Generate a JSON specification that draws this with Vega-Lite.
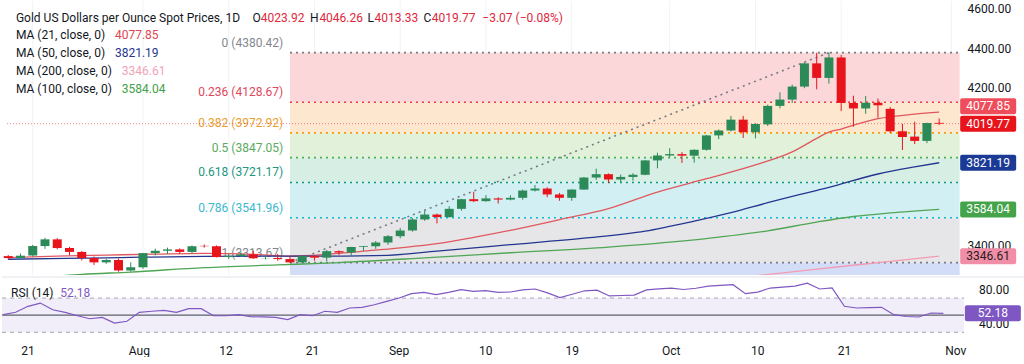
{
  "$schema": "https://vega.github.io/schema/vega-lite/v6.json",
  "padding": 0,
  "background": "white",
  "spacing": 0,
  "resolve": {"scale": {"x": "independent", "y": "independent", "color": "independent"}},
  "config": {"view": {"stroke": null}, "text": {"font": "Roboto", "fontSize": 12}},
  "datasets": {
    "candles": [
      {"i": -2, "o": 3347, "h": 3352, "l": 3330, "c": 3337},
      {"i": -1, "o": 3337, "h": 3360, "l": 3334, "c": 3349},
      {"i": 0, "o": 3350, "h": 3404, "l": 3344, "c": 3398},
      {"i": 1, "o": 3398, "h": 3440, "l": 3384, "c": 3432},
      {"i": 2, "o": 3432, "h": 3438, "l": 3381, "c": 3388},
      {"i": 3, "o": 3388, "h": 3394, "l": 3351, "c": 3368},
      {"i": 4, "o": 3368, "h": 3373, "l": 3325, "c": 3337},
      {"i": 5, "o": 3337, "h": 3345, "l": 3302, "c": 3315},
      {"i": 6, "o": 3315, "h": 3334, "l": 3308, "c": 3327},
      {"i": 7, "o": 3327, "h": 3334, "l": 3268, "c": 3274},
      {"i": 8, "o": 3274, "h": 3315, "l": 3268, "c": 3290},
      {"i": 9, "o": 3290, "h": 3363, "l": 3282, "c": 3362},
      {"i": 10, "o": 3362, "h": 3385, "l": 3350, "c": 3374},
      {"i": 11, "o": 3374, "h": 3390, "l": 3358, "c": 3381},
      {"i": 12, "o": 3381, "h": 3386, "l": 3359, "c": 3368},
      {"i": 13, "o": 3368, "h": 3401, "l": 3362, "c": 3397},
      {"i": 14, "o": 3399, "h": 3406, "l": 3390, "c": 3397},
      {"i": 15, "o": 3397, "h": 3401, "l": 3340, "c": 3342},
      {"i": 16, "o": 3342, "h": 3358, "l": 3332, "c": 3348},
      {"i": 17, "o": 3348, "h": 3365, "l": 3343, "c": 3356},
      {"i": 18, "o": 3356, "h": 3374, "l": 3332, "c": 3336},
      {"i": 19, "o": 3336, "h": 3346, "l": 3330, "c": 3337},
      {"i": 20, "o": 3337, "h": 3358, "l": 3323, "c": 3332},
      {"i": 21, "o": 3332, "h": 3345, "l": 3313.67, "c": 3315},
      {"i": 22, "o": 3315, "h": 3350, "l": 3311, "c": 3347},
      {"i": 23, "o": 3347, "h": 3352, "l": 3324, "c": 3339},
      {"i": 24, "o": 3339, "h": 3378, "l": 3321, "c": 3372},
      {"i": 25, "o": 3372, "h": 3376, "l": 3352, "c": 3365},
      {"i": 26, "o": 3365, "h": 3394, "l": 3351, "c": 3393},
      {"i": 27, "o": 3393, "h": 3399, "l": 3373, "c": 3397},
      {"i": 28, "o": 3397, "h": 3423, "l": 3384, "c": 3416},
      {"i": 29, "o": 3416, "h": 3454, "l": 3404, "c": 3448},
      {"i": 30, "o": 3448, "h": 3490, "l": 3437, "c": 3477},
      {"i": 31, "o": 3477, "h": 3540, "l": 3471, "c": 3533},
      {"i": 32, "o": 3533, "h": 3578, "l": 3526, "c": 3558},
      {"i": 33, "o": 3558, "h": 3563, "l": 3513, "c": 3545},
      {"i": 34, "o": 3545, "h": 3600, "l": 3543, "c": 3587},
      {"i": 35, "o": 3587, "h": 3638, "l": 3578, "c": 3636},
      {"i": 36, "o": 3636, "h": 3674, "l": 3621, "c": 3626},
      {"i": 37, "o": 3626, "h": 3657, "l": 3623, "c": 3640},
      {"i": 38, "o": 3640, "h": 3646, "l": 3614, "c": 3634},
      {"i": 39, "o": 3634, "h": 3656, "l": 3630, "c": 3643},
      {"i": 40, "o": 3643, "h": 3685, "l": 3633, "c": 3680},
      {"i": 41, "o": 3680, "h": 3708, "l": 3675, "c": 3690},
      {"i": 42, "o": 3690, "h": 3697, "l": 3646, "c": 3660},
      {"i": 43, "o": 3660, "h": 3668, "l": 3628, "c": 3643},
      {"i": 44, "o": 3643, "h": 3686, "l": 3628, "c": 3685},
      {"i": 45, "o": 3685, "h": 3749, "l": 3683, "c": 3746},
      {"i": 46, "o": 3746, "h": 3791, "l": 3734, "c": 3763},
      {"i": 47, "o": 3763, "h": 3767, "l": 3718, "c": 3736},
      {"i": 48, "o": 3736, "h": 3761, "l": 3722, "c": 3749},
      {"i": 49, "o": 3749, "h": 3768, "l": 3730, "c": 3760},
      {"i": 50, "o": 3760, "h": 3834, "l": 3758, "c": 3833},
      {"i": 51, "o": 3833, "h": 3872, "l": 3793, "c": 3858},
      {"i": 52, "o": 3858, "h": 3895, "l": 3849, "c": 3865},
      {"i": 53, "o": 3865, "h": 3875, "l": 3820, "c": 3857},
      {"i": 54, "o": 3857, "h": 3889, "l": 3822, "c": 3887},
      {"i": 55, "o": 3887, "h": 3962, "l": 3883, "c": 3960},
      {"i": 56, "o": 3960, "h": 3990, "l": 3941, "c": 3985},
      {"i": 57, "o": 3985, "h": 4059, "l": 3980, "c": 4040},
      {"i": 58, "o": 4040, "h": 4059, "l": 3947, "c": 3976},
      {"i": 59, "o": 3976, "h": 4022, "l": 3945, "c": 4018},
      {"i": 60, "o": 4016, "h": 4116, "l": 4008, "c": 4110},
      {"i": 61, "o": 4110, "h": 4179, "l": 4097, "c": 4142},
      {"i": 62, "o": 4142, "h": 4218, "l": 4125, "c": 4208},
      {"i": 63, "o": 4208, "h": 4330, "l": 4200, "c": 4326},
      {"i": 64, "o": 4326, "h": 4380, "l": 4194, "c": 4252},
      {"i": 65, "o": 4252, "h": 4381, "l": 4223, "c": 4356},
      {"i": 66, "o": 4356, "h": 4369, "l": 4084, "c": 4125},
      {"i": 67, "o": 4125, "h": 4162, "l": 4004, "c": 4097},
      {"i": 68, "o": 4097, "h": 4160, "l": 4070, "c": 4126},
      {"i": 69, "o": 4126, "h": 4147, "l": 4050, "c": 4113},
      {"i": 70, "o": 4095, "h": 4104, "l": 3972, "c": 3981},
      {"i": 71, "o": 3981, "h": 4019, "l": 3886, "c": 3952},
      {"i": 72, "o": 3954, "h": 4030, "l": 3916, "c": 3932},
      {"i": 73, "o": 3932, "h": 4025, "l": 3921, "c": 4023},
      {"i": 74, "o": 4023.92, "h": 4046.26, "l": 4013.33, "c": 4019.77}
    ],
    "ma": [
      {"ma": "21", "i": -2, "v": 3339}, {"ma": "21", "i": 2, "v": 3347}, {"ma": "21", "i": 6, "v": 3352}, {"ma": "21", "i": 10, "v": 3357},
      {"ma": "21", "i": 14, "v": 3361}, {"ma": "21", "i": 18, "v": 3356}, {"ma": "21", "i": 21, "v": 3347}, {"ma": "21", "i": 24, "v": 3356},
      {"ma": "21", "i": 27, "v": 3372}, {"ma": "21", "i": 30, "v": 3389}, {"ma": "21", "i": 33, "v": 3410}, {"ma": "21", "i": 36, "v": 3442},
      {"ma": "21", "i": 39, "v": 3478}, {"ma": "21", "i": 43, "v": 3532}, {"ma": "21", "i": 47, "v": 3588}, {"ma": "21", "i": 51, "v": 3672},
      {"ma": "21", "i": 55, "v": 3740}, {"ma": "21", "i": 59, "v": 3810}, {"ma": "21", "i": 62, "v": 3876}, {"ma": "21", "i": 64, "v": 3945},
      {"ma": "21", "i": 65, "v": 3977}, {"ma": "21", "i": 66, "v": 3992}, {"ma": "21", "i": 67, "v": 4012}, {"ma": "21", "i": 69, "v": 4045},
      {"ma": "21", "i": 72, "v": 4068}, {"ma": "21", "i": 74, "v": 4077.85},
      {"ma": "50", "i": -2, "v": 3331}, {"ma": "50", "i": 6, "v": 3338}, {"ma": "50", "i": 14, "v": 3346}, {"ma": "50", "i": 24, "v": 3347},
      {"ma": "50", "i": 29, "v": 3351}, {"ma": "50", "i": 33, "v": 3372}, {"ma": "50", "i": 39, "v": 3405}, {"ma": "50", "i": 45, "v": 3438},
      {"ma": "50", "i": 50, "v": 3474}, {"ma": "50", "i": 54, "v": 3525}, {"ma": "50", "i": 57, "v": 3568}, {"ma": "50", "i": 60, "v": 3618},
      {"ma": "50", "i": 62, "v": 3650}, {"ma": "50", "i": 65, "v": 3696}, {"ma": "50", "i": 69, "v": 3764}, {"ma": "50", "i": 72, "v": 3800},
      {"ma": "50", "i": 74, "v": 3821.19},
      {"ma": "100", "i": 2, "v": 3246}, {"ma": "100", "i": 4, "v": 3254}, {"ma": "100", "i": 8, "v": 3266}, {"ma": "100", "i": 14, "v": 3288},
      {"ma": "100", "i": 20, "v": 3302}, {"ma": "100", "i": 25, "v": 3314}, {"ma": "100", "i": 32, "v": 3338}, {"ma": "100", "i": 39, "v": 3364},
      {"ma": "100", "i": 47, "v": 3393}, {"ma": "100", "i": 55, "v": 3436}, {"ma": "100", "i": 60, "v": 3475}, {"ma": "100", "i": 64, "v": 3520},
      {"ma": "100", "i": 67, "v": 3548}, {"ma": "100", "i": 70, "v": 3566}, {"ma": "100", "i": 74, "v": 3584.04},
      {"ma": "200", "i": 59, "v": 3247}, {"ma": "200", "i": 62, "v": 3267}, {"ma": "200", "i": 66, "v": 3294}, {"ma": "200", "i": 70, "v": 3320},
      {"ma": "200", "i": 74, "v": 3346.61}
    ],
    "rsi": [
      {"i": -2, "r": 50.6}, {"i": -1, "r": 53.4}, {"i": 0, "r": 60.4}, {"i": 1, "r": 64.2}, {"i": 2, "r": 56.4}, {"i": 3, "r": 53.4},
      {"i": 4, "r": 49.4}, {"i": 5, "r": 45.9}, {"i": 6, "r": 47.5}, {"i": 7, "r": 40.9}, {"i": 8, "r": 42.9}, {"i": 9, "r": 53.4},
      {"i": 10, "r": 54.6}, {"i": 11, "r": 55.7}, {"i": 12, "r": 53.4}, {"i": 13, "r": 57.6}, {"i": 14, "r": 57.6}, {"i": 15, "r": 49.4},
      {"i": 16, "r": 49.4}, {"i": 17, "r": 50.6}, {"i": 18, "r": 48.3}, {"i": 19, "r": 48}, {"i": 20, "r": 47.5}, {"i": 21, "r": 44.8},
      {"i": 22, "r": 50.6}, {"i": 23, "r": 49.4}, {"i": 24, "r": 54.6}, {"i": 25, "r": 53.4}, {"i": 26, "r": 58.4}, {"i": 27, "r": 59.1},
      {"i": 28, "r": 62.2}, {"i": 29, "r": 66.2}, {"i": 30, "r": 70.1}, {"i": 31, "r": 75.1}, {"i": 32, "r": 76.7}, {"i": 33, "r": 74},
      {"i": 34, "r": 76.7}, {"i": 35, "r": 79.8}, {"i": 36, "r": 77.9}, {"i": 37, "r": 78.6}, {"i": 38, "r": 76.7}, {"i": 39, "r": 77.1},
      {"i": 40, "r": 79.5}, {"i": 41, "r": 80.6}, {"i": 42, "r": 76}, {"i": 43, "r": 70.5}, {"i": 44, "r": 74.5}, {"i": 45, "r": 78.5},
      {"i": 46, "r": 79.2}, {"i": 47, "r": 72.5}, {"i": 48, "r": 73}, {"i": 49, "r": 73.5}, {"i": 50, "r": 79.5}, {"i": 51, "r": 80.8},
      {"i": 52, "r": 81.7}, {"i": 53, "r": 80}, {"i": 54, "r": 81.5}, {"i": 55, "r": 84}, {"i": 56, "r": 84.8}, {"i": 57, "r": 85.6},
      {"i": 58, "r": 75.1}, {"i": 59, "r": 77}, {"i": 60, "r": 81.7}, {"i": 61, "r": 82.8}, {"i": 62, "r": 84}, {"i": 63, "r": 87.4},
      {"i": 64, "r": 80.6}, {"i": 65, "r": 81.8}, {"i": 66, "r": 60.4}, {"i": 67, "r": 58.4}, {"i": 68, "r": 58.8}, {"i": 69, "r": 59.2},
      {"i": 70, "r": 50.6}, {"i": 71, "r": 48.5}, {"i": 72, "r": 47.9}, {"i": 73, "r": 52.6}, {"i": 74, "r": 52.18}
    ],
    "fibLevels": [
      {"lvl": "0", "v": 4380.42, "label": "0 (4380.42)"},
      {"lvl": "0.236", "v": 4128.67, "label": "0.236 (4128.67)"},
      {"lvl": "0.382", "v": 3972.92, "label": "0.382 (3972.92)"},
      {"lvl": "0.5", "v": 3847.05, "label": "0.5 (3847.05)"},
      {"lvl": "0.618", "v": 3721.17, "label": "0.618 (3721.17)"},
      {"lvl": "0.786", "v": 3541.96, "label": "0.786 (3541.96)"},
      {"lvl": "1", "v": 3313.67, "label": "1 (3313.67)"}
    ],
    "fibZones": [
      {"z": "a", "top": 4380.42, "bot": 4128.67},
      {"z": "b", "top": 4128.67, "bot": 3972.92},
      {"z": "c", "top": 3972.92, "bot": 3847.05},
      {"z": "d", "top": 3847.05, "bot": 3721.17},
      {"z": "e", "top": 3721.17, "bot": 3541.96},
      {"z": "f", "top": 3541.96, "bot": 3313.67},
      {"z": "g", "top": 3313.67, "bot": 3200}
    ],
    "ticks": [
      {"i": 0, "lab": "21"}, {"i": 9, "lab": "Aug"}, {"i": 16, "lab": "12"}, {"i": 23, "lab": "21"}, {"i": 30, "lab": "Sep"}, {"i": 37, "lab": "10"},
      {"i": 44, "lab": "19"}, {"i": 52, "lab": "Oct"}, {"i": 59, "lab": "10"}, {"i": 66, "lab": "21"}, {"i": 75, "lab": "Nov"}
    ]
  },
  "vconcat": [
    {
      "width": 1024,
      "height": 274,
      "resolve": {"scale": {"color": "independent"}},
      "layer": [
        {
          "data": {"name": "ticks"},
          "mark": {"type": "rule", "color": "#f0f2f5", "strokeWidth": 1},
          "encoding": {"x": {"field": "i", "type": "quantitative", "scale": {"domain": [-2.102, 80.68], "nice": false, "zero": false}, "axis": null}}
        },
        {
          "data": {"name": "fibZones"},
          "mark": {"type": "rect", "clip": true},
          "encoding": {
            "x": {"datum": 21, "type": "quantitative", "scale": {"domain": [-2.102, 80.68], "nice": false, "zero": false}, "axis": null},
            "x2": {"datum": 75.67},
            "y": {"field": "top", "type": "quantitative", "scale": {"domain": [3250.9, 4642.8], "nice": false, "zero": false}, "axis": null},
            "y2": {"field": "bot"},
            "color": {"field": "z", "type": "nominal", "legend": null, "scale": {"domain": ["a", "b", "c", "d", "e", "f", "g"], "range": ["#fbd7da", "#fde7cf", "#e2f1da", "#d6eee3", "#d2f0f4", "#e6e6e8", "#d4ddf8"]}}
          }
        },
        {
          "data": {"name": "fibLevels"},
          "mark": {"type": "rule", "strokeDash": [2, 4], "strokeWidth": 1.6},
          "encoding": {
            "x": {"datum": 21, "type": "quantitative", "scale": {"domain": [-2.102, 80.68], "nice": false, "zero": false}, "axis": null},
            "x2": {"datum": 75.67},
            "y": {"field": "v", "type": "quantitative", "scale": {"domain": [3250.9, 4642.8], "nice": false, "zero": false}, "axis": null},
            "color": {"field": "lvl", "type": "nominal", "legend": null, "scale": {"domain": ["0", "0.236", "0.382", "0.5", "0.618", "0.786", "1"], "range": ["#787b86", "#f23645", "#ff9800", "#4caf50", "#089981", "#00bcd4", "#787b86"]}}
          }
        },
        {
          "data": {"name": "fibLevels"},
          "mark": {"type": "text", "align": "right", "baseline": "bottom", "dy": -3, "fontSize": 12},
          "encoding": {
            "x": {"datum": 20.45, "type": "quantitative", "scale": {"domain": [-2.102, 80.68], "nice": false, "zero": false}, "axis": null},
            "y": {"field": "v", "type": "quantitative", "scale": {"domain": [3250.9, 4642.8], "nice": false, "zero": false}, "axis": null},
            "text": {"field": "label"},
            "color": {"field": "lvl", "type": "nominal", "legend": null, "scale": {"domain": ["0", "0.236", "0.382", "0.5", "0.618", "0.786", "1"], "range": ["#85878f", "#e0475a", "#e8a030", "#5aaa5e", "#22967f", "#3bb8cf", "#85878f"]}}
          }
        },
        {
          "data": {"values": [{"v": 4019.77}]},
          "mark": {"type": "rule", "color": "#f23645", "opacity": 0.6, "strokeDash": [1, 2], "strokeWidth": 1},
          "encoding": {
            "x": {"datum": -2.102, "type": "quantitative", "scale": {"domain": [-2.102, 80.68], "nice": false, "zero": false}, "axis": null},
            "x2": {"datum": 75.67},
            "y": {"field": "v", "type": "quantitative", "scale": {"domain": [3250.9, 4642.8], "nice": false, "zero": false}, "axis": null}
          }
        },
        {
          "data": {"values": [{"i": 21, "v": 3313.67}, {"i": 65, "v": 4380.42}]},
          "mark": {"type": "line", "color": "#787b86", "strokeDash": [2, 4], "strokeWidth": 1.6},
          "encoding": {
            "x": {"field": "i", "type": "quantitative", "scale": {"domain": [-2.102, 80.68], "nice": false, "zero": false}, "axis": null},
            "y": {"field": "v", "type": "quantitative", "scale": {"domain": [3250.9, 4642.8], "nice": false, "zero": false}, "axis": null}
          }
        },
        {
          "data": {"name": "ma"},
          "mark": {"type": "line", "clip": true, "strokeWidth": 1.3, "interpolate": "monotone"},
          "encoding": {
            "x": {"field": "i", "type": "quantitative", "scale": {"domain": [-2.102, 80.68], "nice": false, "zero": false}, "axis": null},
            "y": {"field": "v", "type": "quantitative", "scale": {"domain": [3250.9, 4642.8], "nice": false, "zero": false}, "axis": null},
            "color": {"field": "ma", "type": "nominal", "legend": null, "scale": {"domain": ["21", "50", "100", "200"], "range": ["#e0585e", "#24368f", "#4fa653", "#f29bb2"]}}
          }
        },
        {
          "data": {"name": "candles"},
          "mark": {"type": "rule", "strokeWidth": 1, "clip": true},
          "encoding": {
            "x": {"field": "i", "type": "quantitative", "scale": {"domain": [-2.102, 80.68], "nice": false, "zero": false}, "axis": null},
            "y": {"field": "l", "type": "quantitative", "scale": {"domain": [3250.9, 4642.8], "nice": false, "zero": false}, "axis": null},
            "y2": {"field": "h"},
            "color": {"condition": {"test": "datum.c >= datum.o", "value": "#2b8a57"}, "value": "#e8141c"}
          }
        },
        {
          "data": {"name": "candles"},
          "mark": {"type": "bar", "size": 9, "clip": true},
          "encoding": {
            "x": {"field": "i", "type": "quantitative", "scale": {"domain": [-2.102, 80.68], "nice": false, "zero": false}, "axis": null},
            "y": {"field": "o", "type": "quantitative", "scale": {"domain": [3250.9, 4642.8], "nice": false, "zero": false}, "axis": null},
            "y2": {"field": "c"},
            "color": {"condition": {"test": "datum.c >= datum.o", "value": "#2b8a57"}, "value": "#e8141c"}
          }
        },
        {
          "data": {"values": [{"v": 4600}, {"v": 4400}, {"v": 4200}, {"v": 3400}]},
          "mark": {"type": "text", "align": "center", "baseline": "middle", "fontSize": 12, "color": "#131722"},
          "encoding": {
            "x": {"datum": 78.1, "type": "quantitative", "scale": {"domain": [-2.102, 80.68], "nice": false, "zero": false}, "axis": null},
            "y": {"field": "v", "type": "quantitative", "scale": {"domain": [3250.9, 4642.8], "nice": false, "zero": false}, "axis": null},
            "text": {"field": "v", "format": ".2f"}
          }
        },
        {
          "data": {"values": [{"k": "last", "v": 4019.77}, {"k": "ma50", "v": 3821.19}, {"k": "ma100", "v": 3584.04}, {"k": "ma200", "v": 3346.61}]},
          "mark": {"type": "tick", "orient": "horizontal", "size": 56, "thickness": 16, "cornerRadius": 2, "opacity": 1},
          "encoding": {
            "x": {"datum": 78.0, "type": "quantitative", "scale": {"domain": [-2.102, 80.68], "nice": false, "zero": false}, "axis": null},
            "y": {"field": "v", "type": "quantitative", "scale": {"domain": [3250.9, 4642.8], "nice": false, "zero": false}, "axis": null},
            "color": {"field": "k", "type": "nominal", "legend": null, "scale": {"domain": ["last", "ma50", "ma100", "ma200"], "range": ["#e8141c", "#1b3a96", "#45a34a", "#f08ea7"]}}
          }
        },
        {
          "data": {"values": [{"v": 4077.85}]},
          "mark": {"type": "tick", "orient": "horizontal", "size": 56, "thickness": 16, "cornerRadius": 2, "opacity": 1, "yOffset": -6, "color": "#ef4d5b"},
          "encoding": {
            "x": {"datum": 78.0, "type": "quantitative", "scale": {"domain": [-2.102, 80.68], "nice": false, "zero": false}, "axis": null},
            "y": {"field": "v", "type": "quantitative", "scale": {"domain": [3250.9, 4642.8], "nice": false, "zero": false}, "axis": null}
          }
        },
        {
          "data": {"values": [{"v": 4019.77}, {"v": 3821.19}, {"v": 3584.04}]},
          "mark": {"type": "text", "align": "center", "baseline": "middle", "fontSize": 12, "color": "white"},
          "encoding": {
            "x": {"datum": 78.0, "type": "quantitative", "scale": {"domain": [-2.102, 80.68], "nice": false, "zero": false}, "axis": null},
            "y": {"field": "v", "type": "quantitative", "scale": {"domain": [3250.9, 4642.8], "nice": false, "zero": false}, "axis": null},
            "text": {"field": "v", "format": ".2f"}
          }
        },
        {
          "data": {"values": [{"v": 4077.85}]},
          "mark": {"type": "text", "align": "center", "baseline": "middle", "fontSize": 12, "color": "white", "yOffset": -6},
          "encoding": {
            "x": {"datum": 78.0, "type": "quantitative", "scale": {"domain": [-2.102, 80.68], "nice": false, "zero": false}, "axis": null},
            "y": {"field": "v", "type": "quantitative", "scale": {"domain": [3250.9, 4642.8], "nice": false, "zero": false}, "axis": null},
            "text": {"field": "v", "format": ".2f"}
          }
        },
        {
          "data": {"values": [{"v": 3346.61}]},
          "mark": {"type": "text", "align": "center", "baseline": "middle", "fontSize": 12, "color": "#2a1c20"},
          "encoding": {
            "x": {"datum": 78.0, "type": "quantitative", "scale": {"domain": [-2.102, 80.68], "nice": false, "zero": false}, "axis": null},
            "y": {"field": "v", "type": "quantitative", "scale": {"domain": [3250.9, 4642.8], "nice": false, "zero": false}, "axis": null},
            "text": {"field": "v", "format": ".2f"}
          }
        },
        {
          "data": {"values": [{"t": "Gold US Dollars per Ounce Spot Prices, 1D"}]},
          "mark": {"type": "text", "align": "left", "baseline": "middle", "fontSize": 12, "color": "#131722"},
          "encoding": {
            "x": {"datum": -1.374, "type": "quantitative", "scale": {"domain": [-2.102, 80.68], "nice": false, "zero": false}, "axis": null},
            "y": {"datum": 4558, "type": "quantitative", "scale": {"domain": [3250.9, 4642.8], "nice": false, "zero": false}, "axis": null},
            "text": {"field": "t"}
          }
        },
        {
          "data": {"values": [{"t": "O"}]},
          "mark": {"type": "text", "align": "left", "baseline": "middle", "fontSize": 12, "color": "#131722"},
          "encoding": {
            "x": {"datum": 17.95, "type": "quantitative", "scale": {"domain": [-2.102, 80.68], "nice": false, "zero": false}, "axis": null},
            "y": {"datum": 4558, "type": "quantitative", "scale": {"domain": [3250.9, 4642.8], "nice": false, "zero": false}, "axis": null},
            "text": {"field": "t"}
          }
        },
        {
          "data": {"values": [{"t": "4023.92"}]},
          "mark": {"type": "text", "align": "left", "baseline": "middle", "fontSize": 12, "color": "#e0283a"},
          "encoding": {
            "x": {"datum": 18.62, "type": "quantitative", "scale": {"domain": [-2.102, 80.68], "nice": false, "zero": false}, "axis": null},
            "y": {"datum": 4558, "type": "quantitative", "scale": {"domain": [3250.9, 4642.8], "nice": false, "zero": false}, "axis": null},
            "text": {"field": "t"}
          }
        },
        {
          "data": {"values": [{"t": "H"}]},
          "mark": {"type": "text", "align": "left", "baseline": "middle", "fontSize": 12, "color": "#131722"},
          "encoding": {
            "x": {"datum": 22.64, "type": "quantitative", "scale": {"domain": [-2.102, 80.68], "nice": false, "zero": false}, "axis": null},
            "y": {"datum": 4558, "type": "quantitative", "scale": {"domain": [3250.9, 4642.8], "nice": false, "zero": false}, "axis": null},
            "text": {"field": "t"}
          }
        },
        {
          "data": {"values": [{"t": "4046.26"}]},
          "mark": {"type": "text", "align": "left", "baseline": "middle", "fontSize": 12, "color": "#e0283a"},
          "encoding": {
            "x": {"datum": 23.4, "type": "quantitative", "scale": {"domain": [-2.102, 80.68], "nice": false, "zero": false}, "axis": null},
            "y": {"datum": 4558, "type": "quantitative", "scale": {"domain": [3250.9, 4642.8], "nice": false, "zero": false}, "axis": null},
            "text": {"field": "t"}
          }
        },
        {
          "data": {"values": [{"t": "L"}]},
          "mark": {"type": "text", "align": "left", "baseline": "middle", "fontSize": 12, "color": "#131722"},
          "encoding": {
            "x": {"datum": 27.32, "type": "quantitative", "scale": {"domain": [-2.102, 80.68], "nice": false, "zero": false}, "axis": null},
            "y": {"datum": 4558, "type": "quantitative", "scale": {"domain": [3250.9, 4642.8], "nice": false, "zero": false}, "axis": null},
            "text": {"field": "t"}
          }
        },
        {
          "data": {"values": [{"t": "4013.33"}]},
          "mark": {"type": "text", "align": "left", "baseline": "middle", "fontSize": 12, "color": "#e0283a"},
          "encoding": {
            "x": {"datum": 27.9, "type": "quantitative", "scale": {"domain": [-2.102, 80.68], "nice": false, "zero": false}, "axis": null},
            "y": {"datum": 4558, "type": "quantitative", "scale": {"domain": [3250.9, 4642.8], "nice": false, "zero": false}, "axis": null},
            "text": {"field": "t"}
          }
        },
        {
          "data": {"values": [{"t": "C"}]},
          "mark": {"type": "text", "align": "left", "baseline": "middle", "fontSize": 12, "color": "#131722"},
          "encoding": {
            "x": {"datum": 31.9, "type": "quantitative", "scale": {"domain": [-2.102, 80.68], "nice": false, "zero": false}, "axis": null},
            "y": {"datum": 4558, "type": "quantitative", "scale": {"domain": [3250.9, 4642.8], "nice": false, "zero": false}, "axis": null},
            "text": {"field": "t"}
          }
        },
        {
          "data": {"values": [{"t": "4019.77"}]},
          "mark": {"type": "text", "align": "left", "baseline": "middle", "fontSize": 12, "color": "#e0283a"},
          "encoding": {
            "x": {"datum": 32.58, "type": "quantitative", "scale": {"domain": [-2.102, 80.68], "nice": false, "zero": false}, "axis": null},
            "y": {"datum": 4558, "type": "quantitative", "scale": {"domain": [3250.9, 4642.8], "nice": false, "zero": false}, "axis": null},
            "text": {"field": "t"}
          }
        },
        {
          "data": {"values": [{"t": "−3.07 (−0.08%)"}]},
          "mark": {"type": "text", "align": "left", "baseline": "middle", "fontSize": 12, "color": "#e0283a"},
          "encoding": {
            "x": {"datum": 36.7, "type": "quantitative", "scale": {"domain": [-2.102, 80.68], "nice": false, "zero": false}, "axis": null},
            "y": {"datum": 4558, "type": "quantitative", "scale": {"domain": [3250.9, 4642.8], "nice": false, "zero": false}, "axis": null},
            "text": {"field": "t"}
          }
        },
        {
          "data": {"values": [{"t": "MA (21, close, 0)"}]},
          "mark": {"type": "text", "align": "left", "baseline": "middle", "fontSize": 12, "color": "#131722"},
          "encoding": {
            "x": {"datum": -1.374, "type": "quantitative", "scale": {"domain": [-2.102, 80.68], "nice": false, "zero": false}, "axis": null},
            "y": {"datum": 4468.6, "type": "quantitative", "scale": {"domain": [3250.9, 4642.8], "nice": false, "zero": false}, "axis": null},
            "text": {"field": "t"}
          }
        },
        {
          "data": {"values": [{"t": "4077.85"}]},
          "mark": {"type": "text", "align": "left", "baseline": "middle", "fontSize": 12, "color": "#e2474f"},
          "encoding": {
            "x": {"datum": 6.71, "type": "quantitative", "scale": {"domain": [-2.102, 80.68], "nice": false, "zero": false}, "axis": null},
            "y": {"datum": 4468.6, "type": "quantitative", "scale": {"domain": [3250.9, 4642.8], "nice": false, "zero": false}, "axis": null},
            "text": {"field": "t"}
          }
        },
        {
          "data": {"values": [{"t": "MA (50, close, 0)"}]},
          "mark": {"type": "text", "align": "left", "baseline": "middle", "fontSize": 12, "color": "#131722"},
          "encoding": {
            "x": {"datum": -1.374, "type": "quantitative", "scale": {"domain": [-2.102, 80.68], "nice": false, "zero": false}, "axis": null},
            "y": {"datum": 4377.1, "type": "quantitative", "scale": {"domain": [3250.9, 4642.8], "nice": false, "zero": false}, "axis": null},
            "text": {"field": "t"}
          }
        },
        {
          "data": {"values": [{"t": "3821.19"}]},
          "mark": {"type": "text", "align": "left", "baseline": "middle", "fontSize": 12, "color": "#24368f"},
          "encoding": {
            "x": {"datum": 6.71, "type": "quantitative", "scale": {"domain": [-2.102, 80.68], "nice": false, "zero": false}, "axis": null},
            "y": {"datum": 4377.1, "type": "quantitative", "scale": {"domain": [3250.9, 4642.8], "nice": false, "zero": false}, "axis": null},
            "text": {"field": "t"}
          }
        },
        {
          "data": {"values": [{"t": "MA (200, close, 0)"}]},
          "mark": {"type": "text", "align": "left", "baseline": "middle", "fontSize": 12, "color": "#131722"},
          "encoding": {
            "x": {"datum": -1.374, "type": "quantitative", "scale": {"domain": [-2.102, 80.68], "nice": false, "zero": false}, "axis": null},
            "y": {"datum": 4287.2, "type": "quantitative", "scale": {"domain": [3250.9, 4642.8], "nice": false, "zero": false}, "axis": null},
            "text": {"field": "t"}
          }
        },
        {
          "data": {"values": [{"t": "3346.61"}]},
          "mark": {"type": "text", "align": "left", "baseline": "middle", "fontSize": 12, "color": "#f0a3b6"},
          "encoding": {
            "x": {"datum": 7.276, "type": "quantitative", "scale": {"domain": [-2.102, 80.68], "nice": false, "zero": false}, "axis": null},
            "y": {"datum": 4287.2, "type": "quantitative", "scale": {"domain": [3250.9, 4642.8], "nice": false, "zero": false}, "axis": null},
            "text": {"field": "t"}
          }
        },
        {
          "data": {"values": [{"t": "MA (100, close, 0)"}]},
          "mark": {"type": "text", "align": "left", "baseline": "middle", "fontSize": 12, "color": "#131722"},
          "encoding": {
            "x": {"datum": -1.374, "type": "quantitative", "scale": {"domain": [-2.102, 80.68], "nice": false, "zero": false}, "axis": null},
            "y": {"datum": 4197.3, "type": "quantitative", "scale": {"domain": [3250.9, 4642.8], "nice": false, "zero": false}, "axis": null},
            "text": {"field": "t"}
          }
        },
        {
          "data": {"values": [{"t": "3584.04"}]},
          "mark": {"type": "text", "align": "left", "baseline": "middle", "fontSize": 12, "color": "#43a047"},
          "encoding": {
            "x": {"datum": 7.276, "type": "quantitative", "scale": {"domain": [-2.102, 80.68], "nice": false, "zero": false}, "axis": null},
            "y": {"datum": 4197.3, "type": "quantitative", "scale": {"domain": [3250.9, 4642.8], "nice": false, "zero": false}, "axis": null},
            "text": {"field": "t"}
          }
        }
      ]
    },
    {
      "width": 1024,
      "height": 64,
      "layer": [
        {
          "data": {"values": [{"r": 94.6}]},
          "mark": {"type": "rule", "color": "#e0e3eb", "strokeWidth": 1},
          "encoding": {
            "x": {"datum": -2.102, "type": "quantitative", "scale": {"domain": [-2.102, 80.68], "nice": false, "zero": false}, "axis": null},
            "x2": {"datum": 80.68},
            "y": {"field": "r", "type": "quantitative", "scale": {"domain": [19.9, 94.6], "nice": false, "zero": false}, "axis": null}
          }
        },
        {
          "data": {"values": [{"top": 70, "bot": 30}]},
          "mark": {"type": "rect", "color": "#7e57c2", "opacity": 0.1},
          "encoding": {
            "x": {"datum": -2.102, "type": "quantitative", "scale": {"domain": [-2.102, 80.68], "nice": false, "zero": false}, "axis": null},
            "x2": {"datum": 75.67},
            "y": {"field": "top", "type": "quantitative", "scale": {"domain": [19.9, 94.6], "nice": false, "zero": false}, "axis": null},
            "y2": {"field": "bot"}
          }
        },
        {
          "data": {"values": [{"r": 70}, {"r": 30}]},
          "mark": {"type": "rule", "color": "#a3a6af", "strokeDash": [4, 4], "strokeWidth": 1},
          "encoding": {
            "x": {"datum": -2.102, "type": "quantitative", "scale": {"domain": [-2.102, 80.68], "nice": false, "zero": false}, "axis": null},
            "x2": {"datum": 75.67},
            "y": {"field": "r", "type": "quantitative", "scale": {"domain": [19.9, 94.6], "nice": false, "zero": false}, "axis": null}
          }
        },
        {
          "data": {"values": [{"r": 50}]},
          "mark": {"type": "rule", "color": "#5d606b", "strokeWidth": 1.3},
          "encoding": {
            "x": {"datum": -2.102, "type": "quantitative", "scale": {"domain": [-2.102, 80.68], "nice": false, "zero": false}, "axis": null},
            "x2": {"datum": 75.67},
            "y": {"field": "r", "type": "quantitative", "scale": {"domain": [19.9, 94.6], "nice": false, "zero": false}, "axis": null}
          }
        },
        {
          "data": {"name": "rsi"},
          "mark": {"type": "line", "color": "#7e57c2", "strokeWidth": 1.2},
          "encoding": {
            "x": {"field": "i", "type": "quantitative", "scale": {"domain": [-2.102, 80.68], "nice": false, "zero": false}, "axis": null},
            "y": {"field": "r", "type": "quantitative", "scale": {"domain": [19.9, 94.6], "nice": false, "zero": false}, "axis": null}
          }
        },
        {
          "data": {"name": "ticks"},
          "mark": {"type": "text", "align": "center", "baseline": "middle", "fontSize": 12, "color": "#131722"},
          "encoding": {
            "x": {"field": "i", "type": "quantitative", "scale": {"domain": [-2.102, 80.68], "nice": false, "zero": false}, "axis": null},
            "y": {"datum": 8.8, "type": "quantitative", "scale": {"domain": [19.9, 94.6], "nice": false, "zero": false}, "axis": null},
            "text": {"field": "lab"}
          }
        },
        {
          "data": {"values": [{"r": 80}, {"r": 40}]},
          "mark": {"type": "text", "align": "center", "baseline": "middle", "fontSize": 12, "color": "#131722"},
          "encoding": {
            "x": {"datum": 78.1, "type": "quantitative", "scale": {"domain": [-2.102, 80.68], "nice": false, "zero": false}, "axis": null},
            "y": {"field": "r", "type": "quantitative", "scale": {"domain": [19.9, 94.6], "nice": false, "zero": false}, "axis": null},
            "text": {"field": "r", "format": ".2f"}
          }
        },
        {
          "data": {"values": [{"r": 52.18}]},
          "mark": {"type": "tick", "orient": "horizontal", "size": 56, "thickness": 16, "cornerRadius": 2, "color": "#7e57c2", "opacity": 1},
          "encoding": {
            "x": {"datum": 78.0, "type": "quantitative", "scale": {"domain": [-2.102, 80.68], "nice": false, "zero": false}, "axis": null},
            "y": {"field": "r", "type": "quantitative", "scale": {"domain": [19.9, 94.6], "nice": false, "zero": false}, "axis": null}
          }
        },
        {
          "data": {"values": [{"r": 52.18}]},
          "mark": {"type": "text", "align": "center", "baseline": "middle", "fontSize": 12, "color": "white"},
          "encoding": {
            "x": {"datum": 78.0, "type": "quantitative", "scale": {"domain": [-2.102, 80.68], "nice": false, "zero": false}, "axis": null},
            "y": {"field": "r", "type": "quantitative", "scale": {"domain": [19.9, 94.6], "nice": false, "zero": false}, "axis": null},
            "text": {"field": "r", "format": ".2f"}
          }
        },
        {
          "data": {"values": [{"t": "RSI (14)"}]},
          "mark": {"type": "text", "align": "left", "baseline": "middle", "fontSize": 12, "color": "#131722"},
          "encoding": {
            "x": {"datum": -1.374, "type": "quantitative", "scale": {"domain": [-2.102, 80.68], "nice": false, "zero": false}, "axis": null},
            "y": {"datum": 76.5, "type": "quantitative", "scale": {"domain": [19.9, 94.6], "nice": false, "zero": false}, "axis": null},
            "text": {"field": "t"}
          }
        },
        {
          "data": {"values": [{"t": "52.18"}]},
          "mark": {"type": "text", "align": "left", "baseline": "middle", "fontSize": 12, "color": "#7e57c2"},
          "encoding": {
            "x": {"datum": 2.6, "type": "quantitative", "scale": {"domain": [-2.102, 80.68], "nice": false, "zero": false}, "axis": null},
            "y": {"datum": 76.5, "type": "quantitative", "scale": {"domain": [19.9, 94.6], "nice": false, "zero": false}, "axis": null},
            "text": {"field": "t"}
          }
        }
      ]
    }
  ]
}
